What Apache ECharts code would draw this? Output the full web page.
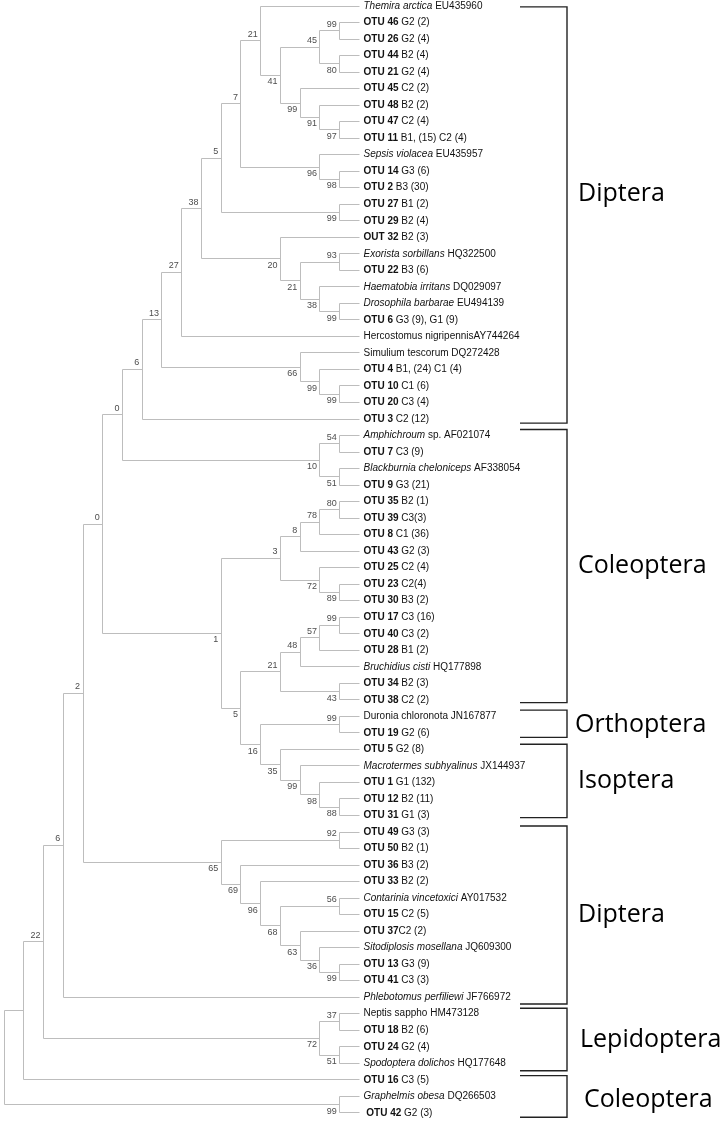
<!DOCTYPE html>
<html><head><meta charset="utf-8">
<script src="https://cdn.jsdelivr.net/npm/echarts@6/dist/echarts.min.js"></script>
<style>html,body{margin:0;padding:0;background:#fff}#c{width:725px;height:1123px}</style>
</head><body><div id="c"></div><script>
// ---------- DATA ----------
// leaf labels in display order (top to bottom); **bold**, _italic_
const leafLabels = [
  "_Themira arctica_ EU435960",
  "**OTU 46** G2 (2)", "**OTU 26** G2 (4)", "**OTU 44** B2 (4)", "**OTU 21** G2 (4)",
  "**OTU 45** C2 (2)", "**OTU 48** B2 (2)", "**OTU 47** C2 (4)", "**OTU 11** B1, (15) C2 (4)",
  "_Sepsis violacea_ EU435957", "**OTU 14** G3 (6)", "**OTU 2** B3 (30)",
  "**OTU 27** B1 (2)", "**OTU 29** B2 (4)", "**OUT 32** B2 (3)",
  "_Exorista sorbillans_ HQ322500", "**OTU 22** B3 (6)",
  "_Haematobia irritans_ DQ029097", "_Drosophila barbarae_ EU494139", "**OTU 6** G3 (9), G1 (9)",
  "Hercostomus nigripennisAY744264", "Simulium tescorum DQ272428",
  "**OTU 4** B1, (24) C1 (4)", "**OTU 10** C1 (6)", "**OTU 20** C3 (4)", "**OTU 3** C2 (12)",
  "_Amphichroum_ sp. AF021074", "**OTU 7** C3 (9)", "_Blackburnia cheloniceps_ AF338054", "**OTU 9** G3 (21)",
  "**OTU 35** B2 (1)", "**OTU 39** C3(3)", "**OTU 8** C1 (36)", "**OTU 43** G2 (3)",
  "**OTU 25** C2 (4)", "**OTU 23** C2(4)", "**OTU 30** B3 (2)",
  "**OTU 17** C3 (16)", "**OTU 40** C3 (2)", "**OTU 28** B1 (2)", "_Bruchidius cisti_ HQ177898",
  "**OTU 34** B2 (3)", "**OTU 38** C2 (2)",
  "Duronia chloronota JN167877", "**OTU 19** G2 (6)",
  "**OTU 5** G2 (8)", "_Macrotermes subhyalinus_ JX144937", "**OTU 1** G1 (132)", "**OTU 12** B2 (11)", "**OTU 31** G1 (3)",
  "**OTU 49** G3 (3)", "**OTU 50** B2 (1)", "**OTU 36** B3 (2)", "**OTU 33** B2 (2)",
  "_Contarinia vincetoxici_ AY017532", "**OTU 15** C2 (5)", "**OTU 37**C2 (2)",
  "_Sitodiplosis mosellana_ JQ609300", "**OTU 13** G3 (9)", "**OTU 41** C3 (3)",
  "_Phlebotomus perfiliewi_ JF766972",
  "Neptis sappho HM473128", "**OTU 18** B2 (6)", "**OTU 24** G2 (4)", "_Spodoptera dolichos_ HQ177648",
  "**OTU 16** C3 (5)", "_Graphelmis obesa_ DQ266503", " **OTU 42** G2 (3)"
];

// topology (Newick with leaf indices, bootstrap values after each clade)
const dipteraCore = "(((0,(((1,2)99,(3,4)80)45,(5,(6,(7,8)97)91)99)41)21,(9,(10,11)98)96)7,(12,13)99)5";
const dipteraCalyp = "(14,((15,16)93,(17,(18,19)99)38)21)20";
const simuliumClade = "(21,(22,(23,24)99)99)66";
const staphClade = "((26,27)54,(28,29)51)10";
const coleopteraA = "((((30,31)80,32)78,33)8,(34,(35,36)89)72)3";
const coleopteraB = "((((37,38)99,39)57,40)48,(41,42)43)21";
const orthoIsoptera = "((43,44)99,(45,(46,(47,(48,49)88)98)99)35)16";
const cecidomyiid = "((50,51)92,(52,(53,((54,55)56,(56,(57,(58,59)99)36)63)68)96)69)65";
const lepidoptera = "((61,62)37,(63,64)51)72";
const graphelmis = "(66,67)99";

const treeNewick =
  "(" + "(" + "(" + "(" + "(" + "(" + "(" + "(" + "(" + "(" + "(" +
  dipteraCore + "," + dipteraCalyp + ")38,20)27," + simuliumClade + ")13,25)6," +
  staphClade + ")0,(" + coleopteraA + ",(" + coleopteraB + "," + orthoIsoptera + ")5)1)0," +
  cecidomyiid + ")2,60)6," + lepidoptera + ")22,65)," + graphelmis + ")";

// clade brackets (in leaf-row units) and names
const cladeNames  = ["Diptera", "Coleoptera", "Orthoptera", "Isoptera", "Diptera", "Lepidoptera", "Coleoptera"];
const cladeTop    = [0.05, 25.64, 42.62, 44.69, 49.64, 60.67, 64.75];
const cladeBottom = [25.25, 42.17, 44.27, 49.13, 60.41, 64.45, 67.27];
const cladeLabelRow = [11.4, 33.9, 43.5, 46.9, 55.0, 62.6, 66.2];

// ---------- LAYOUT ----------
const W = 725, H = 1123;
const TIP_X = 359.5, STEP_X = 19.75;  // px of leaf tips, px per cladogram level
const ROW0 = 6, STEP_Y = 16.52;       // px of first leaf row, px per row
const BR_X = 567, BR_LEFT = 520;
const cladeLabelX = [578, 578, 575, 578, 578, 580, 584];

function parseNewick(s) {
  let i = 0;
  function num() { let t = ""; while (i < s.length && /[0-9]/.test(s[i])) t += s[i++]; return t; }
  function node() {
    if (s[i] === "(") {
      i++;
      const children = [node()];
      while (s[i] === ",") { i++; children.push(node()); }
      i++; // ')'
      return { children, boot: num() };
    }
    return { leaf: +num() };
  }
  return node();
}
const root = parseNewick(treeNewick);
function layout(n) {
  if (n.children) {
    n.children.forEach(layout);
    n.h = 1 + Math.max(...n.children.map(c => c.h));
    n.y = (n.children[0].y + n.children[n.children.length - 1].y) / 2;
  } else { n.h = 0; n.y = n.leaf; }
  n.x = -n.h;
}
layout(root);
const segs = [], boots = [];
(function walk(n) {
  if (!n.children) return;
  const c = n.children;
  if (c.length > 1) segs.push([n.x, c[0].y, n.x, c[c.length - 1].y]);
  c.forEach((ch, k) => {
    segs.push([n.x, ch.y, ch.x, ch.y]);
    if (ch.children && ch.boot !== "") boots.push([ch.x, ch.y, k === 0 ? -1 : 1, ch.boot]);
    walk(ch);
  });
})(root);

function parseRich(t) {
  const parts = t.split(/(\*\*[^*]+\*\*|_[^_]+_)/).filter(p => p.length);
  return parts.map(p => {
    if (p.startsWith("**")) return "{b|" + p.slice(2, -2) + "}";
    if (p.startsWith("_") && p.endsWith("_") && p.length > 1) return "{i|" + p.slice(1, -1) + "}";
    return "{n|" + p + "}";
  }).join("");
}
const FONT = "'Liberation Sans', Arial, sans-serif";
const rich = {
  b: { fontWeight: "bold", fontSize: 10, fontFamily: FONT, fill: "#111" },
  i: { fontStyle: "italic", fontSize: 10, fontFamily: FONT, fill: "#111" },
  n: { fontSize: 10, fontFamily: FONT, fill: "#111" }
};
const crisp = v => Math.round(v - 0.5) + 0.5;

const chart = echarts.init(document.getElementById("c"), null, { renderer: "canvas" });
chart.setOption({
  animation: false,
  backgroundColor: "#fff",
  grid: { left: 0, right: 0, top: 0, bottom: 0 },
  xAxis: { type: "value", min: -TIP_X / STEP_X, max: (W - TIP_X) / STEP_X, show: false, splitLine: { show: false } },
  yAxis: { type: "value", inverse: true, min: -ROW0 / STEP_Y, max: (H - ROW0) / STEP_Y, show: false, splitLine: { show: false } },
  series: [
    {
      type: "custom", coordinateSystem: "cartesian2d", silent: true, clip: false,
      data: segs,
      renderItem: (p, api) => {
        const a = api.coord([api.value(0), api.value(1)]);
        const b = api.coord([api.value(2), api.value(3)]);
        return { type: "line", shape: { x1: crisp(a[0]), y1: crisp(a[1]), x2: crisp(b[0]), y2: crisp(b[1]) },
                 style: { stroke: "#bdbdbd", lineWidth: 1 } };
      }
    },
    {
      type: "custom", coordinateSystem: "cartesian2d", silent: true, clip: false,
      data: boots.map(b => [b[0], b[1], b[2]]),
      renderItem: (p, api) => {
        const a = api.coord([api.value(0), api.value(1)]);
        return { type: "text", x: a[0] - 3, y: a[1] + api.value(2) * 6.5,
                 style: { text: boots[p.dataIndex][3], fontSize: 9, fontFamily: FONT, fill: "#4d4d4d",
                          align: "right", verticalAlign: "middle" } };
      }
    },
    {
      type: "custom", coordinateSystem: "cartesian2d", silent: true, clip: false,
      data: leafLabels.map((t, i) => [0, i]),
      renderItem: (p, api) => {
        const a = api.coord([api.value(0), api.value(1)]);
        return { type: "text", x: a[0] + 4, y: a[1],
                 style: { text: parseRich(leafLabels[p.dataIndex]), rich, fontSize: 10, fontFamily: FONT,
                          fill: "#111", align: "left", verticalAlign: "middle" } };
      }
    },
    {
      type: "custom", coordinateSystem: "cartesian2d", silent: true, clip: false,
      data: cladeNames.map((n, i) => [cladeTop[i], cladeBottom[i], cladeLabelRow[i]]),
      renderItem: (p, api) => {
        const t = api.coord([0, api.value(0)])[1];
        const b = api.coord([0, api.value(1)])[1];
        const m = api.coord([0, api.value(2)])[1];
        return { type: "group", children: [
          { type: "polyline", shape: { points: [[BR_LEFT, t], [BR_X, t], [BR_X, b], [BR_LEFT, b]] },
            style: { stroke: "#222", lineWidth: 1.4, fill: null } },
          { type: "text", x: cladeLabelX[p.dataIndex], y: m,
            style: { text: cladeNames[p.dataIndex], fontSize: 25, fontFamily: "'Open Sans', 'Noto Sans', sans-serif",
                     fill: "#000", align: "left", verticalAlign: "middle" } }
        ] };
      }
    }
  ]
});
</script></body></html>
